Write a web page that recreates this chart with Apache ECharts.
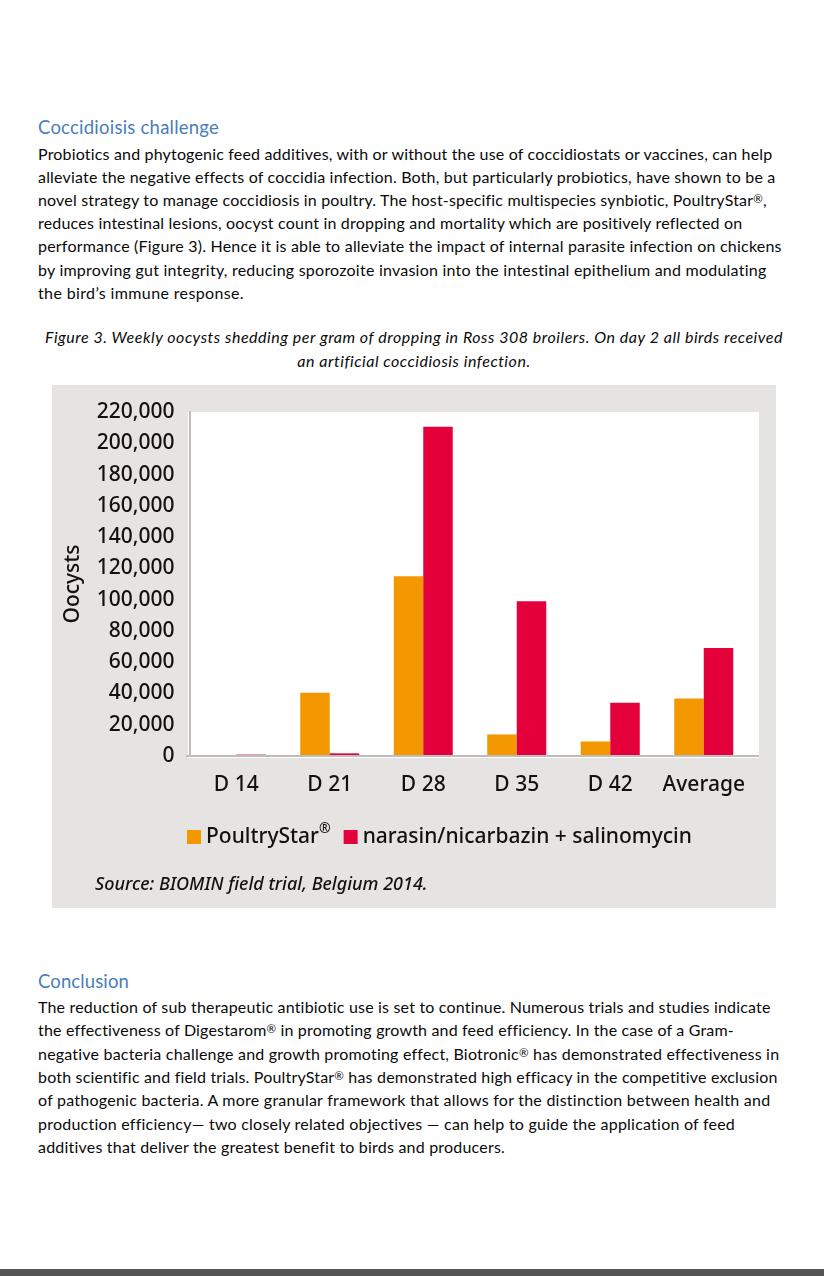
<!DOCTYPE html>
<html><head><meta charset="utf-8">
<script src="https://cdn.jsdelivr.net/npm/echarts@6/dist/echarts.min.js"></script>
<style>
html,body{margin:0;padding:0;background:#fff;}
body{width:824px;height:1276px;position:relative;overflow:hidden;font-family:Lato,"Open Sans",sans-serif;color:#000;}
.ln{position:absolute;left:38px;height:23px;line-height:23px;font-size:16px;white-space:nowrap;color:#0a0a0a;}
.hd{position:absolute;left:38px;height:26px;line-height:26px;font-size:18.5px;color:#4a7ebb;white-space:nowrap;}
.cap{position:absolute;font-style:italic;font-size:16px;height:23px;line-height:23px;white-space:nowrap;color:#0a0a0a;}
.r{font-size:0.72em;vertical-align:0.3em;line-height:0;}
#chart{position:absolute;left:52px;top:385px;width:724px;height:523px;background:#e5e4e2;}
#bar{position:absolute;left:0;top:1269px;width:824px;height:7px;background:#545454;}
</style></head>
<body>
<div id="chart"></div>
<div id="bar"></div>
<script>
// ---- chart data ----
const categories = ['D 14', 'D 21', 'D 28', 'D 35', 'D 42', 'Average'];
const poultryStar = [600, 40500, 115000, 13800, 9300, 36800];
const narasinSalinomycin = [900, 1700, 210500, 99000, 34000, 69000];
const seriesNames = ['PoultryStar', 'narasin/nicarbazin + salinomycin'];
const yMin = 0, yMax = 220000, yStep = 20000;

// ---- page text ----
const heading1 = 'Coccidioisis challenge';
const para1 = [
  'Probiotics and phytogenic feed additives, with or without the use of coccidiostats or vaccines, can help',
  'alleviate the negative effects of coccidia infection. Both, but particularly probiotics, have shown to be a',
  'novel strategy to manage coccidiosis in poultry. The host-specific multispecies synbiotic, PoultryStar\u00AE,',
  'reduces intestinal lesions, oocyst count in dropping and mortality which are positively reflected on',
  'performance (Figure 3). Hence it is able to alleviate the impact of internal parasite infection on chickens',
  'by improving gut integrity, reducing sporozoite invasion into the intestinal epithelium and modulating',
  'the bird\u2019s immune response.'
];
const para1Widths = [735, 738, 729, 705, 744, 729, 206];
const caption = [
  'Figure 3. Weekly oocysts shedding per gram of dropping in Ross 308 broilers. On day 2 all birds received',
  'an artificial coccidiosis infection.'
];
const heading2 = 'Conclusion';
const para2 = [
  'The reduction of sub therapeutic antibiotic use is set to continue. Numerous trials and studies indicate',
  'the effectiveness of Digestarom\u00AE in promoting growth and feed efficiency. In the case of a Gram-',
  'negative bacteria challenge and growth promoting effect, Biotronic\u00AE has demonstrated effectiveness in',
  'both scientific and field trials. PoultryStar\u00AE has demonstrated high efficacy in the competitive exclusion',
  'of pathogenic bacteria. A more granular framework that allows for the distinction between health and',
  'production efficiency\u2014 two closely related objectives \u2014 can help to guide the application of feed',
  'additives that deliver the greatest benefit to birds and producers.'
];
const para2Widths = [734, 695, 741, 739, 733, 697, 467];
const sourceText = 'Source: BIOMIN field trial, Belgium 2014.';

function mk(cls, text, top, left) {
  const d = document.createElement('div');
  d.className = cls;
  text.split('\u00AE').forEach((part, i) => {
    if (i > 0) { const s = document.createElement('span'); s.className = 'r'; s.textContent = '\u00AE'; d.appendChild(s); }
    d.appendChild(document.createTextNode(part));
  });
  d.style.top = top + 'px';
  if (left !== undefined) d.style.left = left + 'px';
  document.body.appendChild(d);
  return d;
}
function fit(el, w) {
  el.style.letterSpacing = '0px';
  const nat = el.getBoundingClientRect().width;
  const ls = (w - nat) / el.textContent.length;
  el.style.letterSpacing = ls + 'px';
  return ls;
}
fit(mk('hd', heading1, 114), 181);
para1.forEach((t, i) => fit(mk('ln', t, 142 + i * 23.1), para1Widths[i]));
const c1 = mk('cap', caption[0], 324.5, 45);
const capLs = fit(c1, 738);
const c2 = mk('cap', caption[1], 349, 0);
c2.style.letterSpacing = capLs + 'px';
c2.style.left = (414 - c2.getBoundingClientRect().width / 2) + 'px';
fit(mk('hd', heading2, 967.5), 91);
para2.forEach((t, i) => fit(mk('ln', t, 995 + i * 23.3), para2Widths[i]));

// ---- chart ----
const F = '"Noto Sans"';
const W = 500;
const chart = echarts.init(document.getElementById('chart'), null, {renderer: 'canvas'});
chart.setOption({
  animation: false,
  textStyle: {fontFamily: F},
  grid: {left: 137.5, top: 27, width: 561, height: 344},
  graphic: [
    {type: 'rect', z: -10, silent: true, shape: {x: 136, y: 27, width: 571, height: 346}, style: {fill: '#ffffff'}},
    {type: 'line', z: 5, silent: true, shape: {x1: 134, y1: 371, x2: 707, y2: 371}, style: {stroke: '#bdbdbd', lineWidth: 2}},
    {type: 'text', left: 43, top: 491, silent: true,
     style: {text: sourceText, font: 'italic 500 18px "Noto Sans"', fill: '#111'}}
  ],
  legend: {
    left: 135, top: 437, padding: 0, itemWidth: 14, itemHeight: 14, itemGap: 13, icon: 'rect',
    data: seriesNames,
    formatter: n => n === 'PoultryStar' ? 'PoultryStar{sup|\u00AE}' : n,
    textStyle: {fontSize: 21, fontWeight: W, color: '#111', fontFamily: F,
      rich: {sup: {fontSize: 14, fontWeight: W, color: '#111', fontFamily: F, padding: [0, 0, 16, 0]}}}
  },
  xAxis: {
    type: 'category', data: categories,
    axisLine: {show: false}, axisTick: {show: false},
    axisLabel: {interval: 0, fontSize: 21, fontWeight: W, color: '#111', margin: 19}
  },
  yAxis: {
    type: 'value', min: yMin, max: yMax, interval: yStep,
    name: 'Oocysts', nameLocation: 'middle', nameGap: 106,
    nameTextStyle: {fontSize: 21, fontWeight: W, color: '#111'},
    axisLine: {show: true, lineStyle: {color: '#bdbdbd', width: 2}},
    axisTick: {show: false}, splitLine: {show: false},
    axisLabel: {fontSize: 21, fontWeight: W, color: '#111', margin: 15,
      formatter: v => v.toLocaleString('en-US')}
  },
  series: [
    {name: seriesNames[0], type: 'bar', data: poultryStar, barWidth: 29.5, barGap: '0%',
     itemStyle: {color: '#f39800'}},
    {name: seriesNames[1], type: 'bar', data: narasinSalinomycin, barWidth: 29.5, barGap: '0%',
     itemStyle: {color: '#e4003a'}}
  ]
});
</script>
</body></html>
